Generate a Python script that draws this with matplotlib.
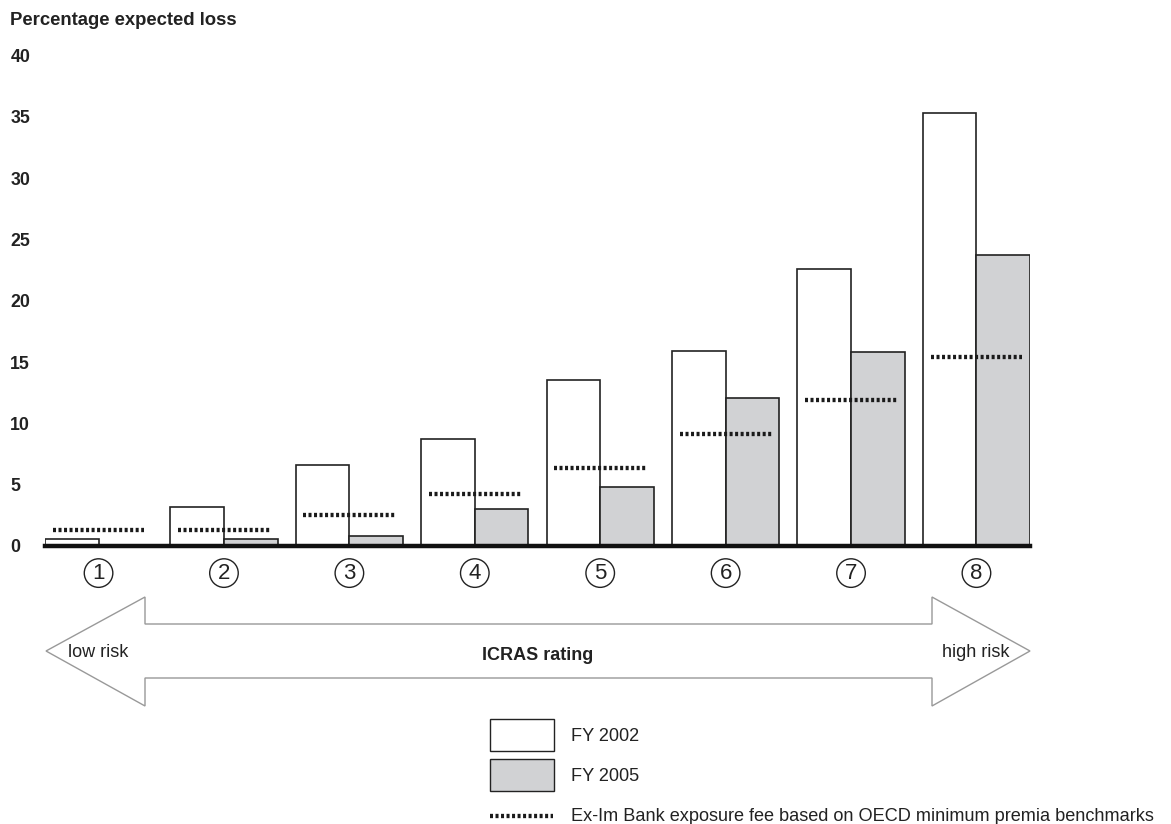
import matplotlib.pyplot as plt
import matplotlib.patches as mpatches
import numpy as np

plt.rcParams['font.family'] = ['Liberation Sans', 'DejaVu Sans']

# ICRAS rating classes 1 (low risk) .. 8 (high risk)
ratings = ['1', '2', '3', '4', '5', '6', '7', '8']
fy2002 = [0.6, 3.2, 6.6, 8.7, 13.5, 15.9, 22.6, 35.3]
fy2005 = [0.0, 0.6, 0.8, 3.0, 4.8, 12.1, 15.8, 23.7]
exim_fee = [1.3, 1.3, 2.5, 4.2, 6.4, 9.1, 11.9, 15.4]
yticks = [0, 5, 10, 15, 20, 25, 30, 35, 40]

W, H = 1171, 824
fig = plt.figure(figsize=(W / 100, H / 100), dpi=100)

# overlay in pixel coordinates for arrow, legend and titles
ov = fig.add_axes([0, 0, 1, 1])
ov.set_xlim(0, W)
ov.set_ylim(H, 0)
ov.axis('off')

ax = fig.add_axes([45 / W, (H - 546) / H, (1030 - 45) / W, (546 - 55.5) / H])
ax.patch.set_visible(False)

x = np.arange(len(ratings))
bw = 0.427
edge = '#222222'
dots = (0, (0.7, 0.58))
ax.bar(x - bw / 2, fy2002, bw, color='white', edgecolor=edge, linewidth=1.2, zorder=2)
ax.bar(x + bw / 2, fy2005, bw, color='#d1d2d4', edgecolor=edge, linewidth=1.2, zorder=2)

for xi, f in zip(x, exim_fee):
    ax.plot([xi - 0.366, xi + 0.366], [f, f], color='#1a1a1a', lw=3.1,
            linestyle=dots, dash_capstyle='butt', zorder=4)

ax.axhline(0, color='#111111', lw=3.2, zorder=5, clip_on=False)

ax.set_xlim(-bw, len(ratings) - 1 + bw)
ax.set_ylim(0, 40)
ax.set_yticks(yticks)
ax.set_yticklabels([str(t) for t in yticks], fontsize=12.8, fontweight='bold',
                   ha='left', color='#222222')
ax.tick_params(axis='y', length=0, pad=25)
ax.set_xticks([])
for s in ax.spines.values():
    s.set_visible(False)

for xi, r in zip(x, ratings):
    ax.annotate(r, xy=(xi, 0), xytext=(0, -19.5), textcoords='offset points',
                ha='center', va='center', fontsize=16, color='#222222',
                bbox=dict(boxstyle='circle,pad=0.17', fc='white', ec='#222222', lw=1.0))

ov.text(10, 25, 'Percentage expected loss', fontsize=13.3, fontweight='bold',
        color='#222222', va='baseline')

# double-headed risk arrow
arrow_pts = [(46, 651), (145, 597), (145, 624), (932, 624), (932, 597),
             (1030, 651), (932, 706), (932, 678), (145, 678), (145, 706)]
ov.add_patch(mpatches.Polygon(arrow_pts, closed=True, fc='white', ec='#999999', lw=1.0))
ov.text(68, 657, 'low risk', fontsize=13, color='#222222', va='baseline')
ov.text(538, 660, 'ICRAS rating', fontsize=13, fontweight='bold', color='#222222',
        ha='center', va='baseline')
ov.text(942, 657, 'high risk', fontsize=13, color='#222222', va='baseline')

# legend
ov.add_patch(mpatches.Rectangle((490, 719), 64, 32, fc='white', ec=edge, lw=1.0))
ov.add_patch(mpatches.Rectangle((490, 759), 64, 32, fc='#d1d2d4', ec=edge, lw=1.0))
ov.plot([490, 553], [816, 816], color='#1a1a1a', lw=3.1, linestyle=dots,
        dash_capstyle='butt')
ov.text(571, 741, 'FY 2002', fontsize=13.1, color='#222222', va='baseline')
ov.text(571, 781, 'FY 2005', fontsize=13.1, color='#222222', va='baseline')
ov.text(571, 821, 'Ex-Im Bank exposure fee based on OECD minimum premia benchmarks',
        fontsize=13.1, color='#222222', va='baseline')

fig.savefig('out.png', dpi=100)
